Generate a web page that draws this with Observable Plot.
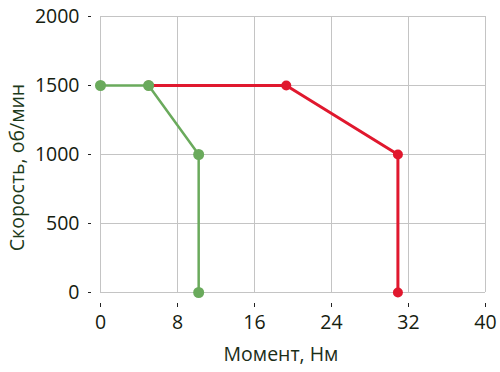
<!DOCTYPE html>
<html>
<head>
<meta charset="utf-8">
<script src="https://cdn.jsdelivr.net/npm/d3@7"></script>
<script src="https://cdn.jsdelivr.net/npm/@observablehq/plot@0.6"></script>
<style>
  html, body { margin: 0; padding: 0; background: #fff; }
  #chart svg { display: block; }
</style>
</head>
<body>
<div id="chart"></div>
<script>
const xTicks = [0, 8, 16, 24, 32, 40];
const yTicks = [0, 500, 1000, 1500, 2000];
const xLabel = "Момент, Нм";
const yLabel = "Скорость, об/мин";

const greenTorque = [0, 5, 10.2, 10.2];
const greenSpeed = [1500, 1500, 1000, 0];
const redTorque = [5, 19.3, 30.9, 30.9];
const redSpeed = [1500, 1500, 1000, 0];

const green = greenTorque.map((t, i) => ({t, s: greenSpeed[i]}));
const red = redTorque.map((t, i) => ({t, s: redSpeed[i]}));

const font = "'Open Sans', sans-serif";
const textColor = "#15200f";
const fmt = d => String(d);

const chart = Plot.plot({
  width: 500,
  height: 372,
  marginLeft: 100,
  marginRight: 15,
  marginTop: 16,
  marginBottom: 80,
  style: {fontFamily: font, fontSize: "19px", color: textColor, background: "#fff"},
  x: {domain: [0, 40], ticks: xTicks},
  y: {domain: [0, 2000], ticks: yTicks},
  marks: [
    Plot.gridX(xTicks, {stroke: "#c4c4c4", strokeOpacity: 1}),
    Plot.gridY(yTicks, {stroke: "#c4c4c4", strokeOpacity: 1}),
    Plot.axisX(xTicks, {tickSize: 4, dy: 11, tickPadding: 8, label: null, tickFormat: fmt, stroke: "#222", fill: textColor, fontSize: 19.5}),
    Plot.axisY(yTicks, {tickSize: 3, dx: -9, tickPadding: 9, label: null, tickFormat: fmt, stroke: "#222", fill: textColor, fontSize: 19.5}),
    Plot.text([xLabel], {frameAnchor: "bottom", textAnchor: "middle", lineAnchor: "middle", dy: 62, dx: -12, fontSize: 19.5, fontFamily: font, fill: "#1b2e18"}),
    Plot.text([yLabel], {frameAnchor: "left", textAnchor: "middle", lineAnchor: "middle", rotate: -90, dx: -83, dy: 13, fontSize: 19.5, fontFamily: font, fill: "#1d3a1a"}),
    Plot.line(red, {x: "t", y: "s", stroke: "#e0182e", strokeWidth: 3}),
    Plot.dot(red, {x: "t", y: "s", r: 5, fill: "#e0182e", stroke: "none"}),
    Plot.line(green, {x: "t", y: "s", stroke: "#6aaa5c", strokeWidth: 2.5}),
    Plot.dot(green, {x: "t", y: "s", r: 5.5, fill: "#6aaa5c", stroke: "none"})
  ]
});
document.getElementById("chart").appendChild(chart);
</script>
</body>
</html>
